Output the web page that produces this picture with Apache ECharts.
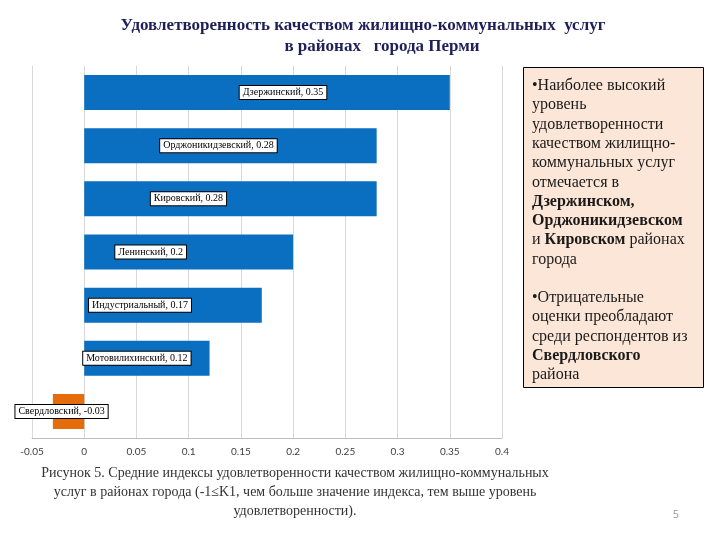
<!DOCTYPE html>
<html><head><meta charset="utf-8">
<script src="https://cdn.jsdelivr.net/npm/echarts@6/dist/echarts.min.js"></script>
<style>html,body{margin:0;padding:0;background:#fff;}#c{width:720px;height:540px;}</style>
</head><body><div id="c"></div>
<script>
const districts = ['Дзержинский','Орджоникидзевский','Кировский','Ленинский','Индустриальный','Мотовилихинский','Свердловский'];
const values = [0.35, 0.28, 0.28, 0.2, 0.17, 0.12, -0.03];
const xTicks = {min: -0.05, max: 0.4, step: 0.05};
const labelOffsets = [16, -12, -42, -38, -33, -10, -7];

const serif = '"Liberation Serif","DejaVu Serif",serif';
const chart = echarts.init(document.getElementById('c'));

const boxLines = [
  '•Наиболее высокий',
  'уровень',
  'удовлетворенности',
  'качеством жилищно-',
  'коммунальных услуг',
  'отмечается в',
  '{b|Дзержинском,}',
  '{b|Орджоникидзевском}',
  'и {b|Кировском} районах',
  'города',
  '',
  '•Отрицательные',
  'оценки преобладают',
  'среди респондентов из',
  '{b|Свердловского}',
  'района'
];
const graphics = [
  {type:'rect', shape:{x:523.5, y:67.5, width:180, height:320}, style:{fill:'#fce6d7', stroke:'#000', lineWidth:1}, z:5},
  {type:'text', x:363, y:26, z:10, style:{text:'Удовлетворенность качеством жилищно-коммунальных  услуг', font:'bold 17px '+serif, fill:'#1f1f5a', align:'center', verticalAlign:'middle'}},
  {type:'text', x:382, y:47, z:10, style:{text:'в районах   города Перми', font:'bold 17px '+serif, fill:'#1f1f5a', align:'center', verticalAlign:'middle'}}
];
boxLines.forEach((t, i) => {
  if (!t) return;
  graphics.push({type:'text', x:532, y:86 + i*19.27, z:10, style:{
    text:t, font:'16px '+serif, fill:'#1a1a1a', verticalAlign:'middle', align:'left',
    rich:{b:{fontFamily:serif, fontWeight:'bold', fontSize:16, fill:'#1a1a1a'}}
  }});
});
const caption = [
  'Рисунок 5. Средние индексы удовлетворенности качеством жилищно-коммунальных',
  'услуг в районах города (-1≤K1, чем больше значение индекса, тем выше уровень',
  'удовлетворенности).'
];
caption.forEach((t, i) => {
  graphics.push({type:'text', x:295, y:473 + i*19, z:10, style:{text:t, font:'14px '+serif, fill:'#333', align:'center', verticalAlign:'middle'}});
});
graphics.push({type:'text', x:676, y:515, z:10, style:{text:'5', font:'11px "Open Sans",sans-serif', fill:'#999', align:'center', verticalAlign:'middle'}});

chart.setOption({
  animation:false,
  grid:{left:32, right:218, top:66, bottom:102},
  xAxis:{type:'value', min:xTicks.min, max:xTicks.max, interval:xTicks.step,
    axisLine:{show:true, lineStyle:{color:'#bfbfbf'}}, axisTick:{show:false},
    splitLine:{show:true, lineStyle:{color:'#d9d9d9'}},
    axisLabel:{color:'#404040', fontSize:10, fontFamily:'Lato, sans-serif', margin:9,
      formatter:v => String(parseFloat(v.toFixed(2)))}},
  yAxis:{type:'category', data:districts, inverse:true,
    axisLine:{show:false}, axisTick:{show:false}, axisLabel:{show:false}, splitLine:{show:false}},
  series:[{type:'bar', barWidth:35,
    data: values.map((v, i) => ({value:v,
      itemStyle:{color: v < 0 ? '#e46c0a' : '#0a6fc0'},
      label:{offset:[labelOffsets[i], 0]}})),
    label:{show:true, position:'inside', color:'#000', fontFamily:serif, fontSize:10,
      backgroundColor:'#fff', borderColor:'#000', borderWidth:1, padding:[2,3,1,3],
      formatter: p => districts[p.dataIndex] + ', ' + p.value}
  }],
  graphic: graphics
});
</script></body></html>
